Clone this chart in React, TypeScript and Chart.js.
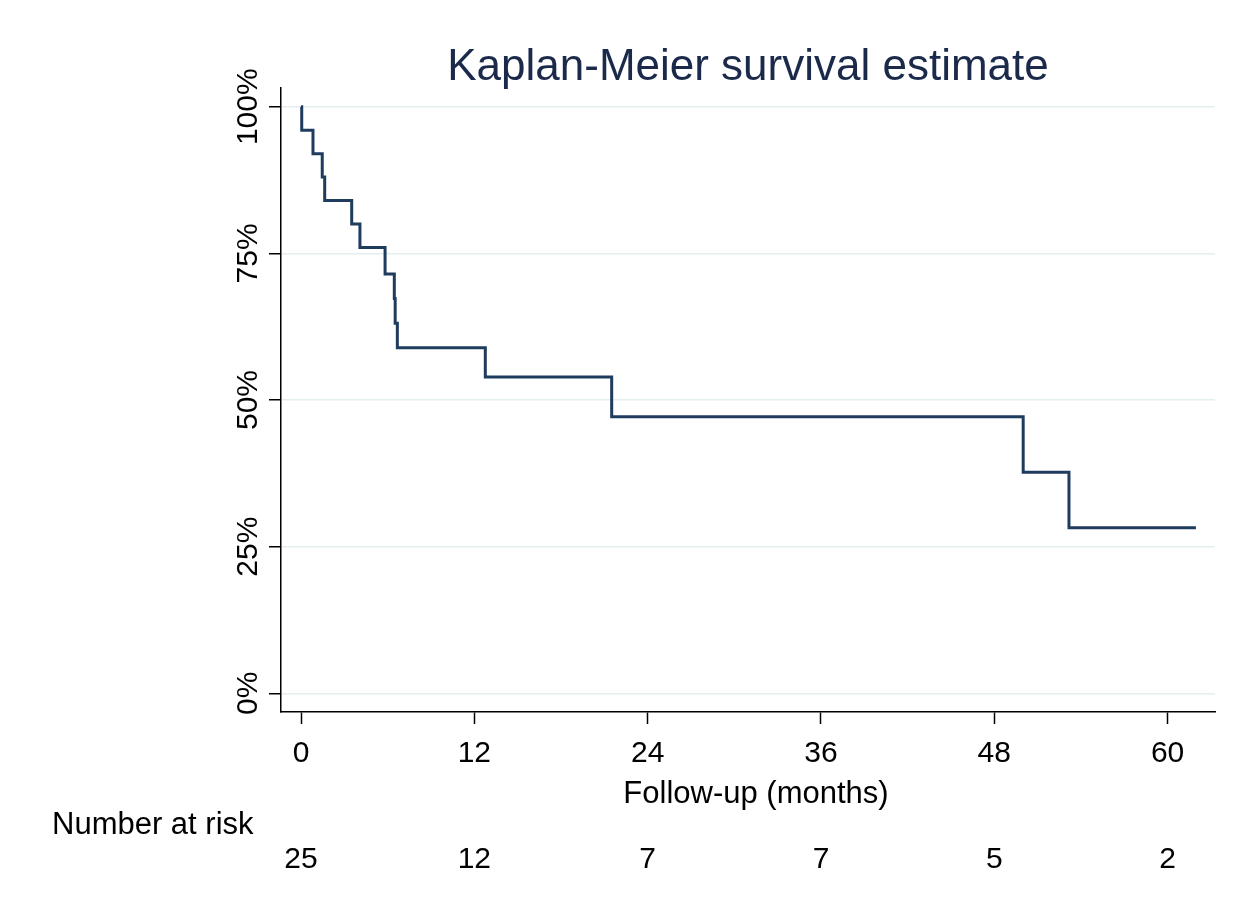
import React, { useEffect, useRef } from "react";
import { Chart, registerables } from "chart.js";

Chart.register(...registerables);

// Kaplan-Meier step data (months, survival proportion)
const eventTimes = [0, 0.05, 0.83, 1.47, 1.64, 3.51, 4.08, 5.82, 6.46, 6.52, 6.67, 12.76, 21.51, 50.0, 53.17, 61.96];
const survival = [1.0, 0.96, 0.92, 0.88, 0.84, 0.8, 0.76, 0.715, 0.673, 0.631, 0.589, 0.539, 0.4715, 0.377, 0.282, 0.282];

const xTicks = [0, 12, 24, 36, 48, 60];
const yTicks = [0, 0.25, 0.5, 0.75, 1.0];
const yTickLabels = ["0%", "25%", "50%", "75%", "100%"];
const riskTimes = [0, 12, 24, 36, 48, 60];
const numberAtRisk = [25, 12, 7, 7, 5, 2];

const titleText = "Kaplan-Meier survival estimate";
const xAxisTitle = "Follow-up (months)";
const riskLabel = "Number at risk";

const FONT = "'Liberation Sans', Arial, sans-serif";

export default function App() {
  const ref = useRef<HTMLCanvasElement | null>(null);

  useEffect(() => {
    if (!ref.current) return;
    const textPlugin = {
      id: "kmText",
      afterDraw(chart: any) {
        const ctx = chart.ctx;
        const xs = chart.scales.x;
        const ys = chart.scales.y;
        const area = chart.chartArea;
        ctx.save();
        // title
        ctx.fillStyle = "#1b2a4a";
        ctx.font = `44px ${FONT}`;
        ctx.textAlign = "center";
        ctx.textBaseline = "alphabetic";
        ctx.fillText(titleText, (area.left + area.right) / 2, 80);
        // x tick labels
        ctx.fillStyle = "#000";
        ctx.font = `30px ${FONT}`;
        xTicks.forEach((v) => {
          ctx.fillText(String(v), xs.getPixelForValue(v), 762);
        });
        // x axis title
        ctx.font = `31px ${FONT}`;
        ctx.fillText(xAxisTitle, (area.left + area.right) / 2 + 8, 803);
        // y tick labels (rotated)
        ctx.font = `30px ${FONT}`;
        yTicks.forEach((v, i) => {
          ctx.save();
          ctx.translate(257, ys.getPixelForValue(v));
          ctx.rotate(-Math.PI / 2);
          ctx.textAlign = "center";
          ctx.fillText(yTickLabels[i], 0, 0);
          ctx.restore();
        });
        // number at risk
        ctx.font = `31px ${FONT}`;
        ctx.textAlign = "left";
        ctx.fillText(riskLabel, 52, 834);
        ctx.font = `30px ${FONT}`;
        ctx.textAlign = "center";
        riskTimes.forEach((t, i) => {
          ctx.fillText(String(numberAtRisk[i]), xs.getPixelForValue(t), 868);
        });
        ctx.restore();
      },
    };

    const chart = new Chart(ref.current, {
      type: "line",
      data: {
        datasets: [
          {
            data: eventTimes.map((t, i) => ({ x: t, y: survival[i] })),
            stepped: "before",
            borderColor: "#1f3c5f",
            borderWidth: 3,
            pointRadius: 0,
            fill: false,
          },
        ],
      },
      options: {
        animation: false,
        responsive: false,
        maintainAspectRatio: false,
        layout: { padding: { left: 269, top: 88, right: 33, bottom: 184 } },
        plugins: { legend: { display: false }, title: { display: false }, tooltip: { enabled: false } },
        scales: {
          x: {
            type: "linear",
            min: -1.385,
            max: 63.28,
            afterBuildTicks: (s: any) => {
              s.ticks = xTicks.map((v) => ({ value: v }));
            },
            afterFit: (s: any) => {
              s.height = 12;
            },
            ticks: { display: false },
            grid: { drawOnChartArea: false, drawTicks: true, tickLength: 12, tickColor: "#000", tickWidth: 1.5 },
            border: { display: true, color: "#000", width: 1.5 },
          },
          y: {
            type: "linear",
            min: -0.0319,
            max: 1.0319,
            afterBuildTicks: (s: any) => {
              s.ticks = yTicks.map((v) => ({ value: v }));
            },
            afterFit: (s: any) => {
              s.width = 12;
            },
            ticks: { display: false },
            grid: { color: "#e4edf0", lineWidth: 1.5, drawTicks: true, tickLength: 12, tickColor: "#000", tickWidth: 1.5 },
            border: { display: true, color: "#000", width: 1.5 },
          },
        },
      },
      plugins: [textPlugin],
    });
    return () => chart.destroy();
  }, []);

  return (
    <div style={{ position: "fixed", left: 0, top: 0, width: 1248, height: 908, background: "#fff" }}>
      <canvas ref={ref} width={1248} height={908} style={{ width: 1248, height: 908, display: "block" }} />
    </div>
  );
}
